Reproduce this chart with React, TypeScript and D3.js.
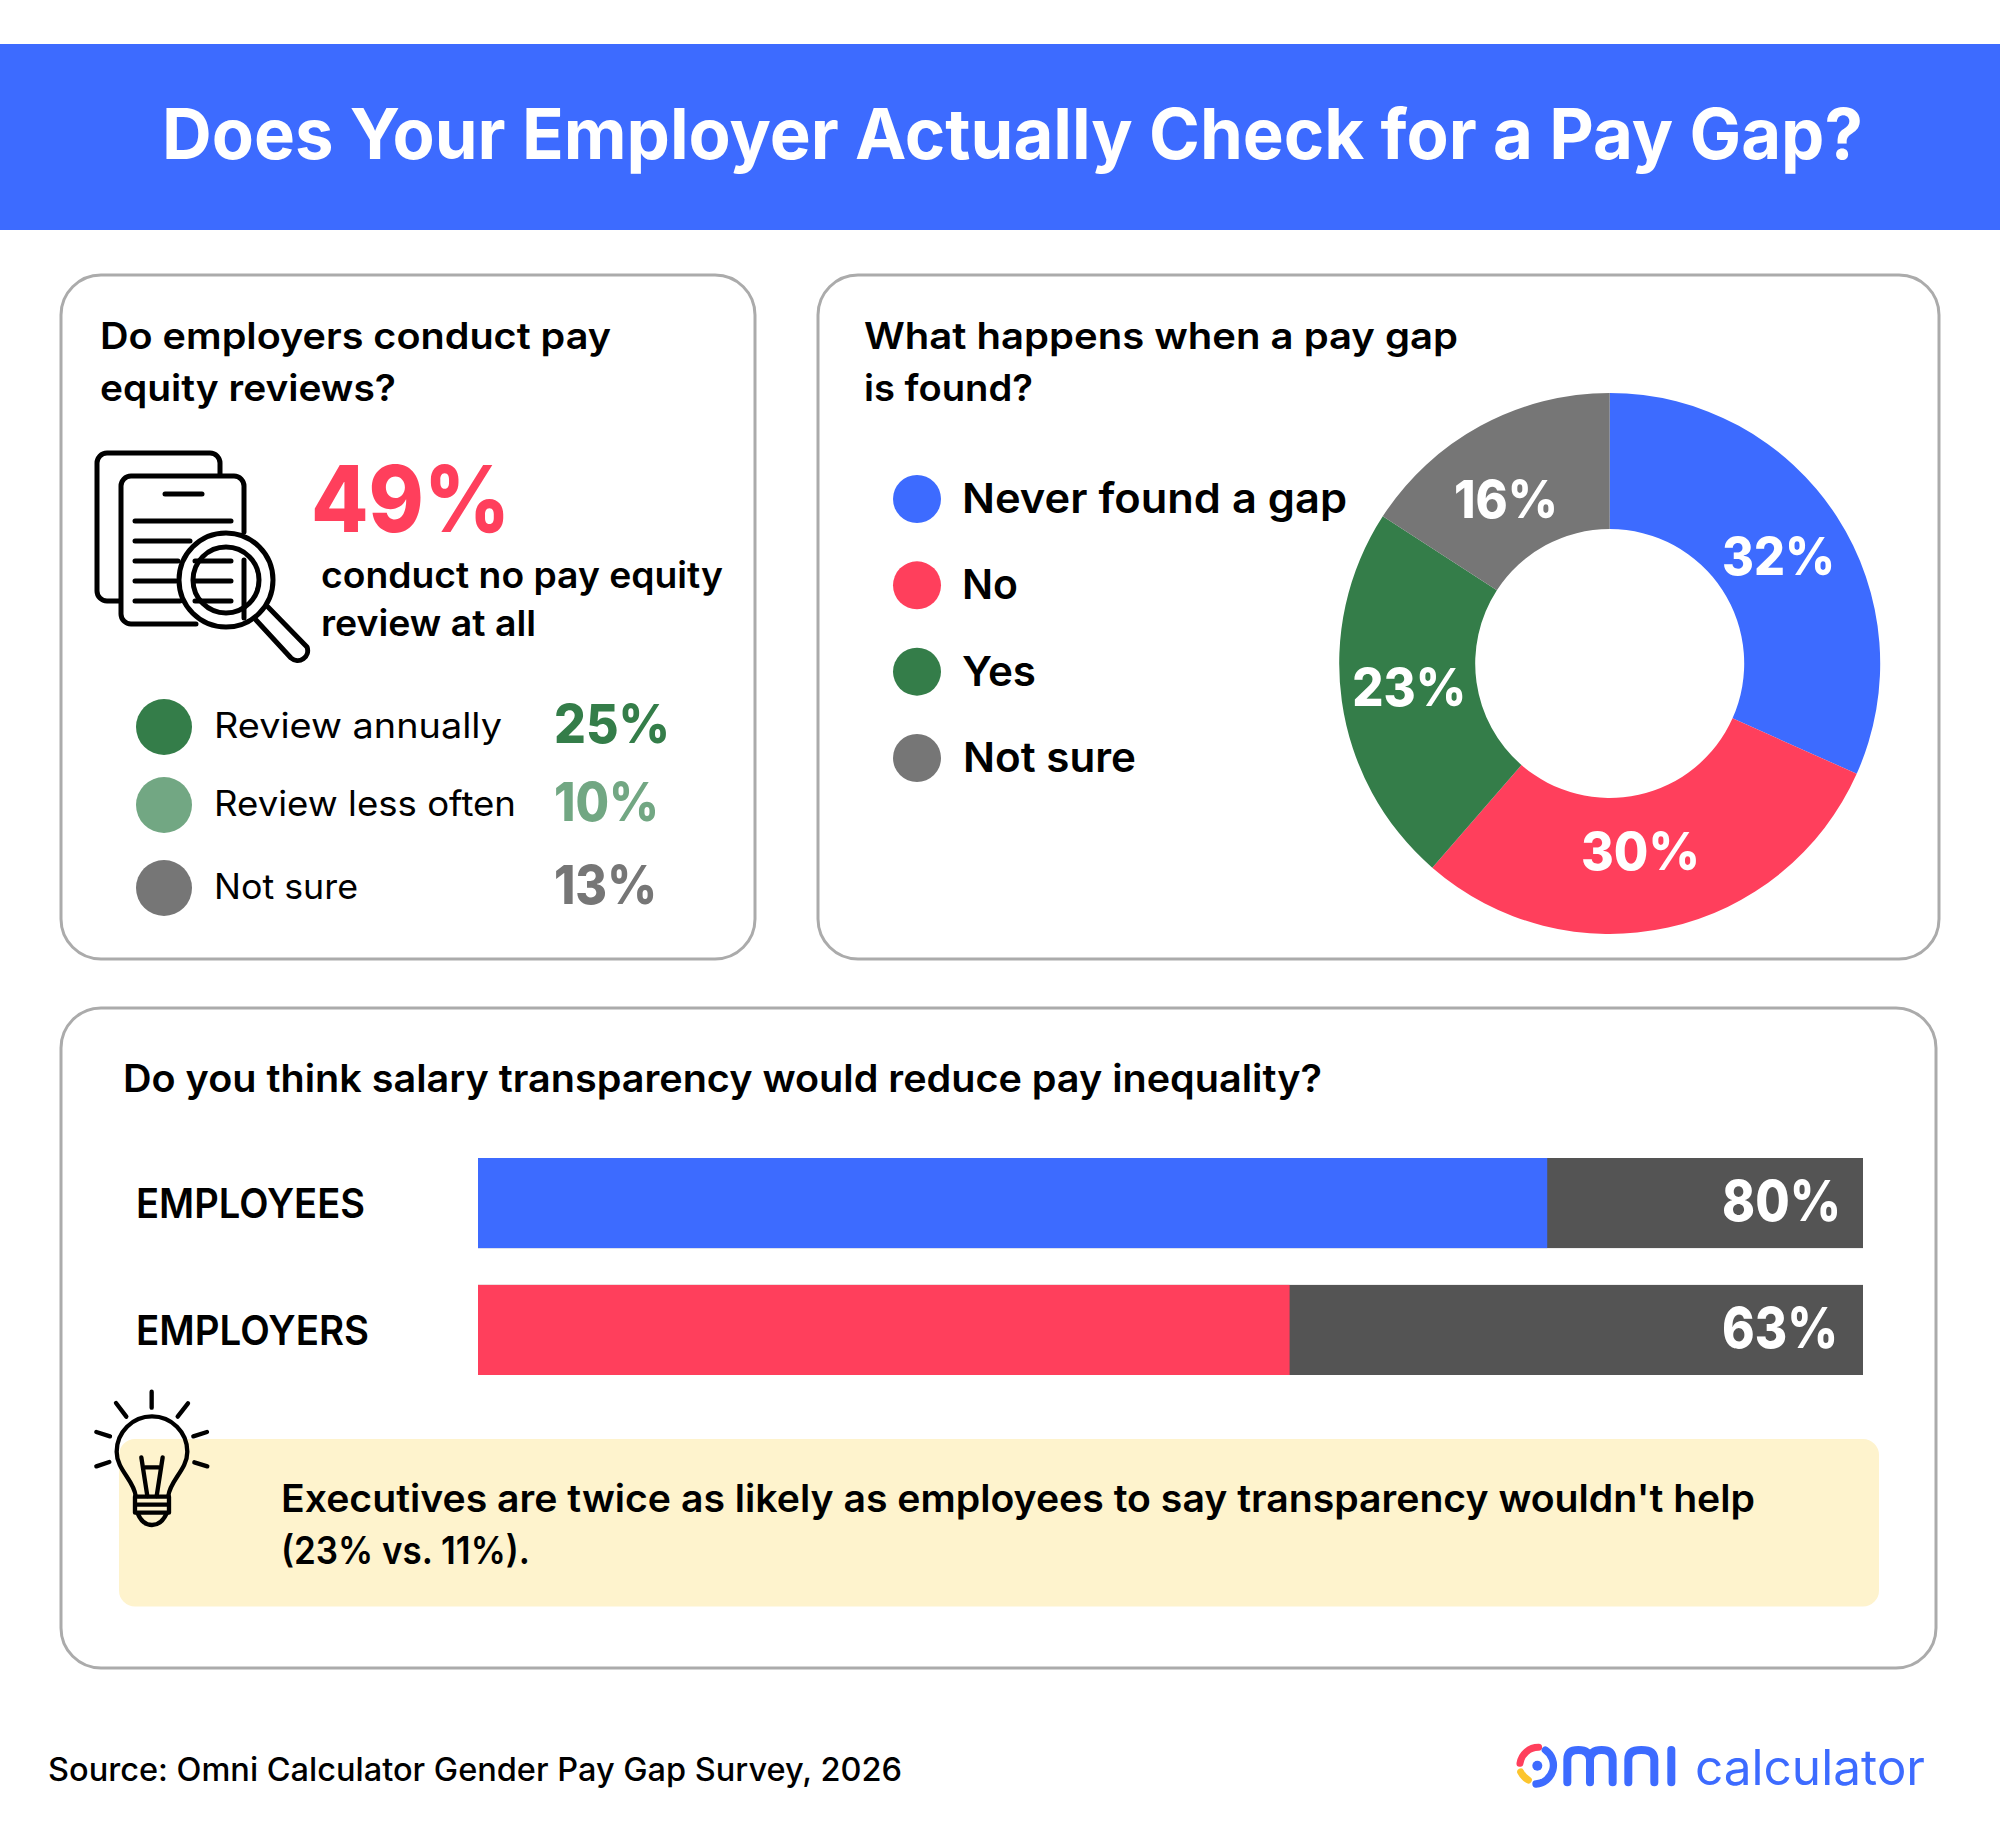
import React from "react";
import * as d3 from "d3";

// ---------- data ----------
const chartTitle = "Does Your Employer Actually Check for a Pay Gap?";
const reviewCategories = ["Review annually", "Review less often", "Not sure"];
const reviewValues = [25, 10, 13];
const noReviewValue = 49;
const donutCategories = ["Never found a gap", "No", "Yes", "Not sure"];
const donutValues = [32, 30, 23, 16];
const barCategories = ["EMPLOYEES", "EMPLOYERS"];
const barLabels = [80, 63];
const barFilledLengths = [77.2, 58.6];

// ---------- style ----------
const BLUE = "#3d6bff";
const RED = "#ff3f5c";
const GREEN = "#347d49";
const LIGHT_GREEN = "#72a783";
const GREY = "#767676";
const DARK = "#545454";
const BORDER = "#ababab";
const CREAM = "#fef3cd";
const FONT = "Inter, 'Noto Sans', sans-serif";
const donutColors = [BLUE, RED, GREEN, GREY];
const reviewColors = [GREEN, LIGHT_GREEN, GREY];
const barColors = [BLUE, RED];

type TP = { x: number; y: number; w?: number; s: number; wt?: number; c?: string; children: React.ReactNode; anchor?: string };
const T = ({ x, y, w, s, wt = 600, c = "#000", children, anchor }: TP) => (
  <text
    x={x}
    y={y}
    fontSize={s}
    fontWeight={wt}
    fill={c}
    fontFamily={FONT}
    textAnchor={anchor}
    textLength={w}
    lengthAdjust={w ? "spacingAndGlyphs" : undefined}
  >
    {children}
  </text>
);

const Panel = ({ x0, x1, y0, y1 }: { x0: number; x1: number; y0: number; y1: number }) => (
  <rect x={x0} y={y0} width={x1 - x0} height={y1 - y0} rx={40} fill="#fff" stroke={BORDER} strokeWidth={3} />
);

const DocIcon = () => (
  <g fill="none" stroke="#000" strokeWidth={5} strokeLinecap="round" strokeLinejoin="round">
    <path d="M120 601H107a10 10 0 0 1-10-10V463a10 10 0 0 1 10-10H210a10 10 0 0 1 10 10V475" />
    <path d="M196 624H131a10 10 0 0 1-10-10V486a10 10 0 0 1 10-10H234a10 10 0 0 1 10 10V532" />
    <path d="M244 560V618" />
    <path d="M165 494H202" />
    <path d="M135 521H231" />
    <path d="M135 541H190" />
    <path d="M135 561H178" />
    <path d="M135 581H176" />
    <path d="M135 601H180" />
    <path d="M195 561H231M195 581H231M195 601H231" />
    <circle cx={226} cy={580} r={47} />
    <circle cx={226} cy={580} r={33} />
    <path d="M256 620L291 658A10 10 0 0 0 307 647L268 607" />
  </g>
);

const BulbIcon = () => (
  <g
    transform="translate(70,1370) scale(0.3333)"
    fill="none"
    stroke="#000"
    strokeWidth={13}
    strokeLinecap="round"
    strokeLinejoin="round"
  >
    <path d="M197 378C192 330 140 300 140 245A105 105 0 1 1 352 245C352 300 300 330 295 378" />
    <path d="M195 380H297V428H195ZM195 404H297" />
    <path d="M203 430C212 452 228 465 246 465C264 465 280 452 290 430" />
    <path d="M214 262L232 378M278 262L260 378M226 292H266" />
    <path d="M245 65V113M138 99L169 140M354 100L323 140M79 186L120 199M411 186L370 199M79 289L118 276M412 289L373 277" />
  </g>
);

const Logo = () => (
  <g transform="translate(1480,1710) scale(0.3333)" fill="none" strokeLinecap="round">
    <path d="M120 160A56 56 0 0 1 176 112" stroke={RED} strokeWidth={21} />
    <path d="M122 186A56 56 0 0 0 145 210" stroke="#fcc52e" strokeWidth={21} />
    <path d="M196 120A56 56 0 0 1 168 222" stroke={BLUE} strokeWidth={22} />
    <circle cx={172} cy={167} r={15} fill={BLUE} />
    <path
      d="M262 217V148Q262 120 295 120Q328 120 330 148V217M330 148Q332 120 365 120Q398 120 398 148V217M445 217V148Q445 120 484 120Q523 120 523 148V217M574 120V217"
      stroke={BLUE}
      strokeWidth={24}
    />
  </g>
);

export default function App() {
  // donut
  const pie = d3.pie<number>().sort(null).value((d) => d);
  const arc = d3.arc<d3.PieArcDatum<number>>().innerRadius(134.5).outerRadius(270.5);
  const cx = 1609.7;
  const cy = 663.5;
  const donutNudge = [[-1, 2], [-13, -11], [0, -6], [-7, 12]];

  // bars
  const xBar = d3.scaleLinear().domain([0, 100]).range([478, 1863]);
  const yBar = d3.scaleBand<string>().domain(barCategories).range([1158, 1375]).paddingInner(0.29).paddingOuter(0);

  // layout of the text columns
  const reviewLabelW = [288, 302, 144];
  const reviewValueW = [116, 105, 103];
  const reviewYs = [727, 805, 888];
  const legendY = d3.scalePoint<string>().domain(donutCategories).range([499, 758]);
  const legendW = [385, 56, 74, 173];
  const barLabelW = [229, 233];
  const barValueW = [119, 116];
  const donutValueW = [113, 119, 114, 104];

  return (
    <svg
      width={2000}
      height={1846}
      viewBox="0 0 2000 1846"
      style={{ position: "absolute", left: 0, top: 0, display: "block", background: "#fff" }}
    >
      <rect x={0} y={44} width={2000} height={186} fill={BLUE} />
      <T x={162} y={159} w={1701} s={70} wt={650} c="#fff">{chartTitle}</T>

      <Panel x0={61} x1={755} y0={275} y1={959} />
      <Panel x0={818} x1={1939} y0={275} y1={959} />
      <Panel x0={61} x1={1936} y0={1008} y1={1668} />

      {/* panel 1 */}
      <T x={100} y={349} w={511} s={37}>Do employers conduct pay</T>
      <T x={100} y={401} w={296} s={37}>equity reviews?</T>
      <DocIcon />
      <T x={311} y={531.7} w={199} s={92} wt={800} c={RED}>{`${noReviewValue}%`}</T>
      <T x={321} y={588} w={402} s={36}>conduct no pay equity</T>
      <T x={321} y={636} w={215} s={36}>review at all</T>
      {reviewCategories.map((d, i) => (
        <g key={d}>
          <circle cx={164} cy={reviewYs[i]} r={28} fill={reviewColors[i]} />
          <T x={214} y={reviewYs[i] + 11} w={reviewLabelW[i]} s={35} wt={400}>{d}</T>
          <T x={554} y={reviewYs[i] + 16} w={reviewValueW[i]} s={54} wt={800} c={reviewColors[i]}>{`${reviewValues[i]}%`}</T>
        </g>
      ))}

      {/* panel 2 */}
      <T x={864} y={349} w={594} s={37}>What happens when a pay gap</T>
      <T x={864} y={401} w={169} s={37}>is found?</T>
      {donutCategories.map((d, i) => {
        const y = legendY(d) as number;
        return (
          <g key={d}>
            <circle cx={917} cy={y} r={24} fill={donutColors[i]} />
            <T x={i === 3 ? 963 : 962} y={y + 14} w={legendW[i]} s={41}>{d}</T>
          </g>
        );
      })}
      <g transform={`translate(${cx},${cy})`}>
        {pie(donutValues).map((a, i) => {
          const [lx, ly] = arc.centroid(a);
          return (
            <g key={i}>
              <path d={arc(a) as string} fill={donutColors[i]} />
              <T
                x={lx + donutNudge[i][0]}
                y={ly + donutNudge[i][1] + 20}
                w={donutValueW[i]}
                s={52}
                wt={800}
                c="#fff"
                anchor="middle"
              >{`${donutValues[i]}%`}</T>
            </g>
          );
        })}
      </g>

      {/* panel 3 */}
      <T x={123} y={1092} w={1199} s={38}>Do you think salary transparency would reduce pay inequality?</T>
      {barCategories.map((d, i) => {
        const y = yBar(d) as number;
        const h = yBar.bandwidth();
        return (
          <g key={d}>
            <rect x={xBar(0)} y={y} width={xBar(100) - xBar(0)} height={h} fill={DARK} />
            <rect x={xBar(0)} y={y} width={xBar(barFilledLengths[i]) - xBar(0)} height={h} fill={barColors[i]} />
            <T x={136} y={y + 60} w={barLabelW[i]} s={41}>{d}</T>
            <T x={1722} y={y + 63} w={barValueW[i]} s={57} wt={800} c="#fff">{`${barLabels[i]}%`}</T>
          </g>
        );
      })}

      <rect x={119} y={1439} width={1760} height={167.5} rx={16} fill={CREAM} />
      <BulbIcon />
      <T x={281} y={1512} w={1474} s={38}>Executives are twice as likely as employees to say transparency wouldn't help</T>
      <T x={281} y={1564} w={249} s={38}>(23% vs. 11%).</T>

      {/* footer */}
      <T x={48} y={1781} w={854} s={32} wt={500}>Source: Omni Calculator Gender Pay Gap Survey, 2026</T>
      <Logo />
      <T x={1695} y={1785} w={230} s={49} wt={400} c={BLUE}>calculator</T>
    </svg>
  );
}
